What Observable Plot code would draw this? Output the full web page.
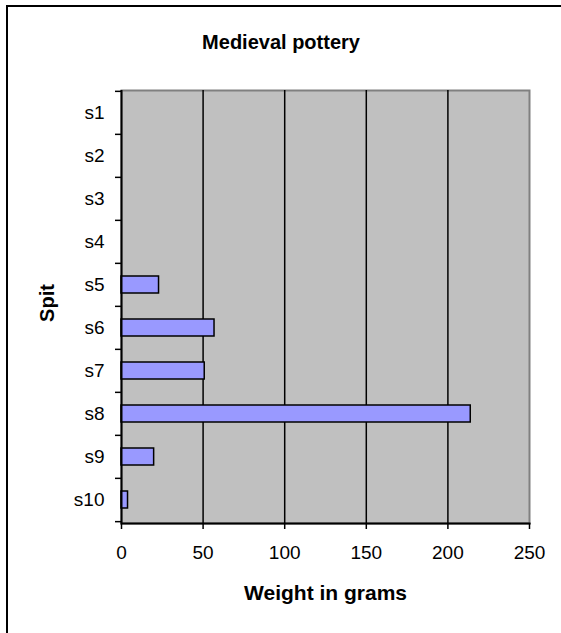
<!DOCTYPE html>
<html>
<head>
<meta charset="utf-8">
<script src="https://cdn.jsdelivr.net/npm/d3@7"></script>
<script src="https://cdn.jsdelivr.net/npm/@observablehq/plot@0.6"></script>
<style>
  html, body { margin: 0; padding: 0; background: #fff; }
  #chart { position: relative; width: 561px; height: 633px; overflow: hidden; }
</style>
</head>
<body>
<div id="chart"></div>
<script>
const spits = ["s1", "s2", "s3", "s4", "s5", "s6", "s7", "s8", "s9", "s10"];
const weights = [0, 0, 0, 0, 23, 57, 51, 214, 20, 4];
const xTicks = [0, 50, 100, 150, 200, 250];
const titleText = "Medieval pottery";
const xLabel = "Weight in grams";
const yLabel = "Spit";

const data = spits.map((s, i) => ({spit: s, weight: weights[i]}));
const font = "'Liberation Sans', Arial, sans-serif";
const H = 633, W = 561;
const mTop = 90, mBottom = 110, mLeft = 121, mRight = 32;
const step = (H - mTop - mBottom) / spits.length;

const chart = Plot.plot({
  width: W,
  height: H,
  marginTop: mTop,
  marginBottom: mBottom,
  marginLeft: mLeft,
  marginRight: mRight,
  style: {fontFamily: font, fontSize: "19px", color: "#000", background: "#fff"},
  x: {domain: [0, 250]},
  y: {domain: spits, paddingInner: 0.6, paddingOuter: 0.3},
  marks: [
    Plot.frame({fill: "#C0C0C0", stroke: "#808080", strokeWidth: 2}),
    Plot.ruleX(xTicks.filter(d => d > 0 && d < 250), {stroke: "#000", strokeWidth: 1.5}),
    Plot.barX(data, {x: "weight", y: "spit", fill: "#9999FF", stroke: "#000", strokeWidth: 1.5}),
    Plot.ruleX([0], {stroke: "#000", strokeWidth: 2}),
    Plot.frame({anchor: "bottom", stroke: "#000", strokeWidth: 2}),
    Plot.axisX({ticks: xTicks, tickSize: 6, tickPadding: 16, strokeWidth: 1.5, fontSize: 19, label: null}),
    Plot.axisY({tickSize: 0, tickPadding: 17, fontSize: 19, label: null}),
    Plot.axisY({tickSize: 6, dy: -step / 2, tickFormat: () => "", strokeWidth: 1.5, label: null}),
    Plot.axisY({ticks: [spits[spits.length - 1]], tickSize: 6, dy: step / 2, tickFormat: () => "", strokeWidth: 1.5, label: null}),
    Plot.text([titleText], {frameAnchor: "top", dy: -48, dx: (W / 2) - (mLeft + (W - mLeft - mRight) / 2), fontWeight: "bold", fontSize: 20, letterSpacing: "0.9px", textAnchor: "middle", lineAnchor: "middle"}),
    Plot.text([xLabel], {frameAnchor: "bottom", dy: 70, fontWeight: "bold", fontSize: 21, letterSpacing: "1px", textAnchor: "middle", lineAnchor: "middle"}),
    Plot.text([yLabel], {frameAnchor: "left", dx: -74, dy: -4, rotate: -90, fontWeight: "bold", fontSize: 20, letterSpacing: "0.5px", textAnchor: "middle", lineAnchor: "middle"})
  ]
});

d3.select(chart).append("path")
  .attr("d", `M7,${H + 10}V6H${W + 10}`)
  .attr("fill", "none")
  .attr("stroke", "#000")
  .attr("stroke-width", 2);

document.getElementById("chart").appendChild(chart);
</script>
</body>
</html>
